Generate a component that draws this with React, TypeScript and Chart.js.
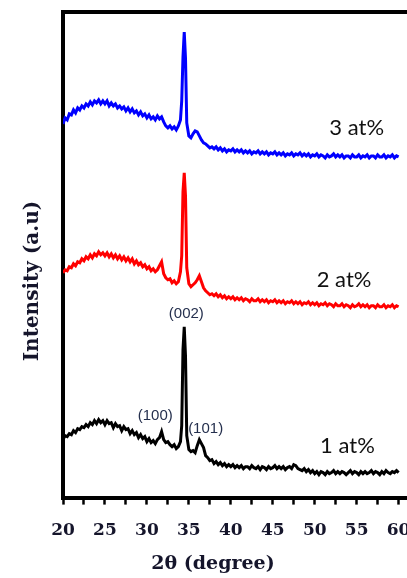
import React, { useEffect, useRef } from "react";
import { Chart, registerables } from "chart.js";

Chart.register(...registerables);

// 2θ positions (degrees)
const xDeg = [
  20, 20.25, 20.5, 20.75,
  21, 21.25, 21.5, 21.75,
  22, 22.25, 22.5, 22.75,
  23, 23.25, 23.5, 23.75,
  24, 24.25, 24.5, 24.75,
  25, 25.25, 25.5, 25.75,
  26, 26.25, 26.5, 26.75,
  27, 27.25, 27.5, 27.75,
  28, 28.25, 28.5, 28.75,
  29, 29.25, 29.5, 29.75,
  30, 30.25, 30.5, 30.75,
  31, 31.25, 31.5, 31.75,
  32, 32.25, 32.5, 32.75,
  33, 33.25, 33.5, 33.75,
  34, 34.15, 34.3, 34.45, 34.6, 34.75,
  35, 35.25, 35.5, 35.75,
  36, 36.25, 36.5, 36.75,
  37, 37.25, 37.5, 37.75,
  38, 38.25, 38.5, 38.75,
  39, 39.25, 39.5, 39.75,
  40, 40.25, 40.5, 40.75,
  41, 41.25, 41.5, 41.75,
  42, 42.25, 42.5, 42.75,
  43, 43.25, 43.5, 43.75,
  44, 44.25, 44.5, 44.75,
  45, 45.25, 45.5, 45.75,
  46, 46.25, 46.5, 46.75,
  47, 47.25, 47.5, 47.75,
  48, 48.25, 48.5, 48.75,
  49, 49.25, 49.5, 49.75,
  50, 50.25, 50.5, 50.75,
  51, 51.25, 51.5, 51.75,
  52, 52.25, 52.5, 52.75,
  53, 53.25, 53.5, 53.75,
  54, 54.25, 54.5, 54.75,
  55, 55.25, 55.5, 55.75,
  56, 56.25, 56.5, 56.75,
  57, 57.25, 57.5, 57.75,
  58, 58.25, 58.5, 58.75,
  59, 59.25, 59.5, 59.75,
  60,
];

// Intensity (a.u., stacked offsets included) — 1 at%
const int1at = [
  58, 62, 61, 64,
  63, 67, 65, 69,
  68, 71, 70, 73,
  71, 75, 73, 77,
  74, 78, 75, 77,
  73, 77, 74, 75,
  70, 74, 71, 72,
  67, 71, 68, 69,
  64, 67, 63, 65,
  60, 63, 59, 61,
  56, 59, 55, 57,
  54, 58, 60, 66,
  58, 55, 56, 53,
  51, 53, 49, 51,
  56, 72, 148, 171, 142, 62,
  48, 46, 47, 45,
  52, 58, 54, 50,
  42, 40, 37, 38,
  34, 36, 33, 35,
  32, 34, 31, 33,
  31, 33, 30, 32,
  30, 32, 29, 31,
  31, 29, 32, 30,
  29, 31, 28, 31,
  30, 28, 31, 29,
  30, 32, 29, 31,
  29, 31, 28, 30,
  31, 29, 33, 32,
  29, 28, 27, 29,
  26, 28, 25, 27,
  24, 26, 23, 26,
  25, 23, 26, 24,
  25, 27, 24, 26,
  24, 26, 25, 23,
  25, 27, 24, 26,
  25, 23, 26, 24,
  26, 24, 25, 27,
  24, 26, 25, 23,
  26, 24, 27, 25,
  24, 26, 25, 27,
  25,
];

// 2 at%
const int2at = [
  225, 228, 227, 231,
  230, 234, 232, 236,
  235, 239, 237, 241,
  239, 243, 240, 244,
  242, 246, 243, 245,
  242, 245, 241, 244,
  240, 243, 239, 242,
  238, 241, 237, 240,
  236, 239, 234, 237,
  233, 235, 231, 233,
  229, 231, 227, 229,
  226, 228, 232, 236,
  224, 220, 218, 219,
  215, 217, 214, 216,
  226, 242, 306, 325, 302, 230,
  214, 211, 213, 215,
  218, 222, 216, 210,
  207, 205, 203, 204,
  202, 204, 201, 203,
  200, 202, 199, 201,
  199, 201, 198, 200,
  198, 200, 197, 199,
  198, 196, 199, 197,
  197, 199, 196, 198,
  196, 198, 195, 197,
  196, 198, 195, 197,
  195, 197, 194, 196,
  195, 197, 194, 196,
  194, 196, 193, 195,
  194, 196, 193, 195,
  193, 195, 192, 194,
  193, 195, 192, 194,
  193, 191, 194, 192,
  192, 194, 191, 193,
  192, 190, 193, 191,
  192, 194, 191, 193,
  191, 193, 190, 192,
  192, 190, 193, 191,
  191, 193, 190, 192,
  191, 193, 190, 192,
  191,
];

// 3 at%
const int3at = [
  374, 380, 378, 384,
  383, 388, 385, 390,
  388, 392, 390, 394,
  392, 396, 393, 397,
  395, 398, 394, 397,
  394, 397, 392, 395,
  392, 394, 390, 392,
  389, 391, 387, 390,
  386, 389, 385, 387,
  383, 386, 382, 384,
  380, 383, 379, 381,
  378, 382, 379, 381,
  376, 372, 370, 372,
  369, 371, 368, 372,
  378, 397, 441, 466, 440, 375,
  362, 360, 364, 367,
  366, 362, 358, 355,
  354, 352, 350, 351,
  349, 351, 348, 350,
  347, 349, 346, 348,
  347, 349, 346, 348,
  346, 348, 345, 347,
  345, 347, 344, 346,
  345, 347, 344, 346,
  344, 346, 343, 345,
  344, 346, 343, 345,
  343, 345, 342, 344,
  343, 345, 342, 344,
  343, 345, 342, 344,
  342, 344, 341, 343,
  342, 344, 341, 343,
  342, 340, 343, 341,
  342, 344, 341, 343,
  341, 343, 340, 342,
  342, 340, 343, 341,
  341, 343, 340, 342,
  341, 343, 340, 342,
  342, 340, 343, 341,
  341, 343, 340, 342,
  341, 343, 340, 342,
  341,
];

const seriesNames = ["1 at%", "2 at%", "3 at%"];
const seriesColors = ["#000000", "#ff0000", "#0000ff"];

const majorTicks = [20, 25, 30, 35, 40, 45, 50, 55, 60];
const minorTicks = [22.5, 27.5, 32.5, 37.5, 42.5, 47.5, 52.5, 57.5];

const xTitle = "2θ (degree)";
const yTitle = "Intensity (a.u)";

// text annotations anchored in data coordinates (x in degrees, y in a.u.) at the text baseline
const seriesLabels = [
  { text: "3 at%", x: 55.0, y: 363 },
  { text: "2 at%", x: 53.5, y: 211 },
  { text: "1 at%", x: 53.9, y: 45 },
];
const peakLabels = [
  { text: "(002)", x: 34.7, y: 180 },
  { text: "(100)", x: 31.0, y: 78 },
  { text: "(101)", x: 37.0, y: 65 },
];

const TEXT_DARK = "#15152b";

const decorPlugin = {
  id: "decor",
  afterDraw(chart: any) {
    const { ctx, chartArea, scales } = chart;
    const xs = scales.x;
    const ys = scales.y;
    ctx.save();
    // top frame line
    ctx.strokeStyle = "#000";
    ctx.lineWidth = 4;
    ctx.beginPath();
    ctx.moveTo(chartArea.left - 2, chartArea.top);
    ctx.lineTo(chart.width, chartArea.top);
    ctx.stroke();

    ctx.textAlign = "center";
    ctx.textBaseline = "alphabetic";
    ctx.font = "22px Lato";
    ctx.fillStyle = "#111111";
    for (const a of seriesLabels) {
      ctx.fillText(a.text, xs.getPixelForValue(a.x), ys.getPixelForValue(a.y));
    }
    ctx.font = "15px 'Liberation Sans'";
    ctx.fillStyle = "#25304e";
    for (const a of peakLabels) {
      ctx.fillText(a.text, xs.getPixelForValue(a.x), ys.getPixelForValue(a.y));
    }

    // axis titles
    ctx.fillStyle = TEXT_DARK;
    ctx.font = "bold 19px 'DejaVu Serif'";
    ctx.fillText(xTitle, chartArea.left + 150, chartArea.bottom + 71);

    ctx.save();
    ctx.translate(chartArea.left - 25, chartArea.top + 269);
    ctx.rotate(-Math.PI / 2);
    ctx.font = "bold 20px 'DejaVu Serif'";
    ctx.fillText(yTitle, 0, 0);
    ctx.restore();

    ctx.restore();
  },
};

export default function App() {
  const canvasRef = useRef<HTMLCanvasElement | null>(null);

  useEffect(() => {
    const canvas = canvasRef.current;
    if (!canvas) return;
    const allTicks = [...majorTicks, ...minorTicks].sort((a, b) => a - b);
    const series = [int1at, int2at, int3at];
    const chart = new Chart(canvas, {
      type: "line",
      data: {
        datasets: series.map((vals, i) => ({
          label: seriesNames[i],
          data: xDeg.map((x, j) => ({ x, y: vals[j] })),
          borderColor: seriesColors[i],
          backgroundColor: seriesColors[i],
          borderWidth: 3,
          pointRadius: 0,
          tension: 0,
          fill: false,
        })),
      },
      options: {
        animation: false,
        responsive: false,
        maintainAspectRatio: false,
        layout: { padding: { left: 63, right: 0, top: 12, bottom: 21 } },
        plugins: {
          legend: { display: false },
          tooltip: { enabled: false },
        },
        scales: {
          x: {
            type: "linear",
            min: 20,
            max: 61,
            afterBuildTicks: (scale: any) => {
              scale.ticks = [...allTicks, 61].map((v) => ({ value: v }));
            },
            afterFit: (scale: any) => {
              scale.paddingRight = 0;
            },
            ticks: {
              autoSkip: false,
              maxRotation: 0,
              padding: 16,
              color: TEXT_DARK,
              font: { family: "'DejaVu Serif'", weight: "bold", size: 17 },
              callback: (value: any) => (majorTicks.includes(Number(value)) ? String(value) : ""),
            },
            grid: {
              display: true,
              drawOnChartArea: false,
              drawTicks: true,
              tickLength: 7,
              tickWidth: 2.5,
              tickColor: (ctx: any) => (ctx.tick && ctx.tick.value === 61 ? "rgba(0,0,0,0)" : "#000"),
            },
            border: { display: true, color: "#000", width: 4 },
          },
          y: {
            type: "linear",
            min: 0,
            max: 486,
            ticks: { display: false },
            grid: { display: true, drawOnChartArea: false, drawTicks: false },
            border: { display: true, color: "#000", width: 4 },
          },
        },
      },
      plugins: [decorPlugin],
    });
    return () => chart.destroy();
  }, []);

  return (
    <div style={{ position: "absolute", left: 0, top: 0, width: 407, height: 578, background: "#fff" }}>
      <canvas ref={canvasRef} width={407} height={578} style={{ display: "block", width: 407, height: 578 }} />
    </div>
  );
}
